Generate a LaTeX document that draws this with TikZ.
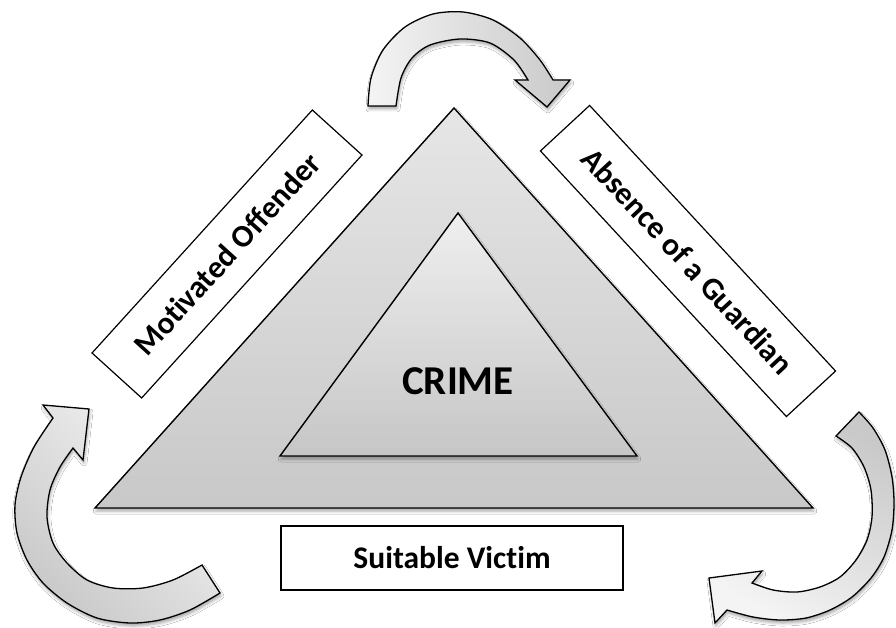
\documentclass[tikz,border=0pt]{standalone}
\usepackage{fontspec}
\setmainfont[Ligatures=NoCommon]{Carlito}
\usetikzlibrary{shadows.blur}
\definecolor{triTop}{HTML}{E6E6E6}
\definecolor{triBot}{HTML}{C8C8C8}
\definecolor{inTop}{HTML}{EFEFEF}
\definecolor{inBot}{HTML}{C6C6C6}
\definecolor{arLight}{HTML}{F4F4F4}
\definecolor{arDark}{HTML}{C9C9C9}
\tikzset{
  triangleshape/.style={draw=black, line width=1.4pt, line join=miter,
    blur shadow={shadow xshift=1pt, shadow yshift=-3pt, shadow blur radius=3pt, shadow opacity=35}},
  arrowshape/.style={draw=black, line width=1.3pt, line join=miter,
    blur shadow={shadow xshift=1pt, shadow yshift=-3pt, shadow blur radius=3pt, shadow opacity=35}},
  labelbox/.style={draw=black, line width=1.2pt, fill=white, inner sep=0pt,
    font=\fontsize{31.5}{36}\selectfont\bfseries, text=black},
}
\begin{document}
\begin{tikzpicture}[x=1pt,y=-1pt]
\useasboundingbox (0,0) rectangle (896,628);
\fill[white] (0,0) rectangle (896,628);

% top arrow
\path[arrowshape, left color=arLight, right color=arDark]
  plot[smooth] coordinates {(368,106) (371,78) (383,50) (405,27) (433,14) (463,12) (493,20) (520,38) (540,60) (553,80)}
  -- (570,80) -- (547,107) -- (515,80) --
  plot[smooth] coordinates {(528,80) (514,60) (490,43) (460,39) (430,45) (412,58) (401,78) (396,106)}
  -- cycle;

% left arrow
\path[arrowshape, left color=arLight, right color=arDark, shading angle=-45]
  plot[smooth] coordinates {(220,593) (190,610) (160,620) (130,623) (97,618) (67,603) (43,583) (27,560) (17,533) (15,505) (21,477) (34,447) (53,418)}
  -- (43,405) -- (89,409) -- (83,460) --
  plot[smooth] coordinates {(73,448) (60,467) (50,490) (47,517) (53,543) (67,563) (87,580) (113,588) (143,588) (173,580) (202,565)}
  -- cycle;

% right arrow
\path[arrowshape, top color=arDark, bottom color=arLight, shading angle=-30]
  plot[smooth] coordinates {(859,412) (873,428) (885,450) (892,477) (894,503) (892,530) (884,557) (871,578) (852,597) (830,610) (806,618) (780,620) (753,617) (727,610)}
  -- (715,623) -- (709,578) -- (762,571) --
  plot[smooth] coordinates {(752,583) (773,590) (797,592) (820,587) (840,577) (856,560) (867,540) (872,517) (871,490) (864,467) (852,448) (836,436)}
  -- cycle;

% outer triangle
\coordinate (OA) at (454,108);
\coordinate (OL) at (95,508);
\coordinate (OR) at (813,508);
\path[triangleshape, top color=triTop, bottom color=triBot] (OA) -- (OR) -- (OL) -- cycle;

% inner triangle
\coordinate (IA) at (458,213);
\coordinate (IL) at (280,456);
\coordinate (IR) at (637,456);
\path[triangleshape, top color=inTop, bottom color=inBot] (IA) -- (IR) -- (IL) -- cycle;

\node[font=\fontsize{41}{46}\selectfont\bfseries] (crime) at (458,381) {CRIME};

% label boxes
\node[labelbox, minimum width=328pt, minimum height=67pt, rotate=47.8] (offender) at (227,254) {Motivated Offender};
\node[labelbox, minimum width=362pt, minimum height=67pt, rotate=-47.2] (guardian) at (688,261) {Absence of a Guardian};
\node[labelbox, minimum width=342pt, minimum height=64pt] (victim) at (452,558) {Suitable Victim};
\end{tikzpicture}
\end{document}
